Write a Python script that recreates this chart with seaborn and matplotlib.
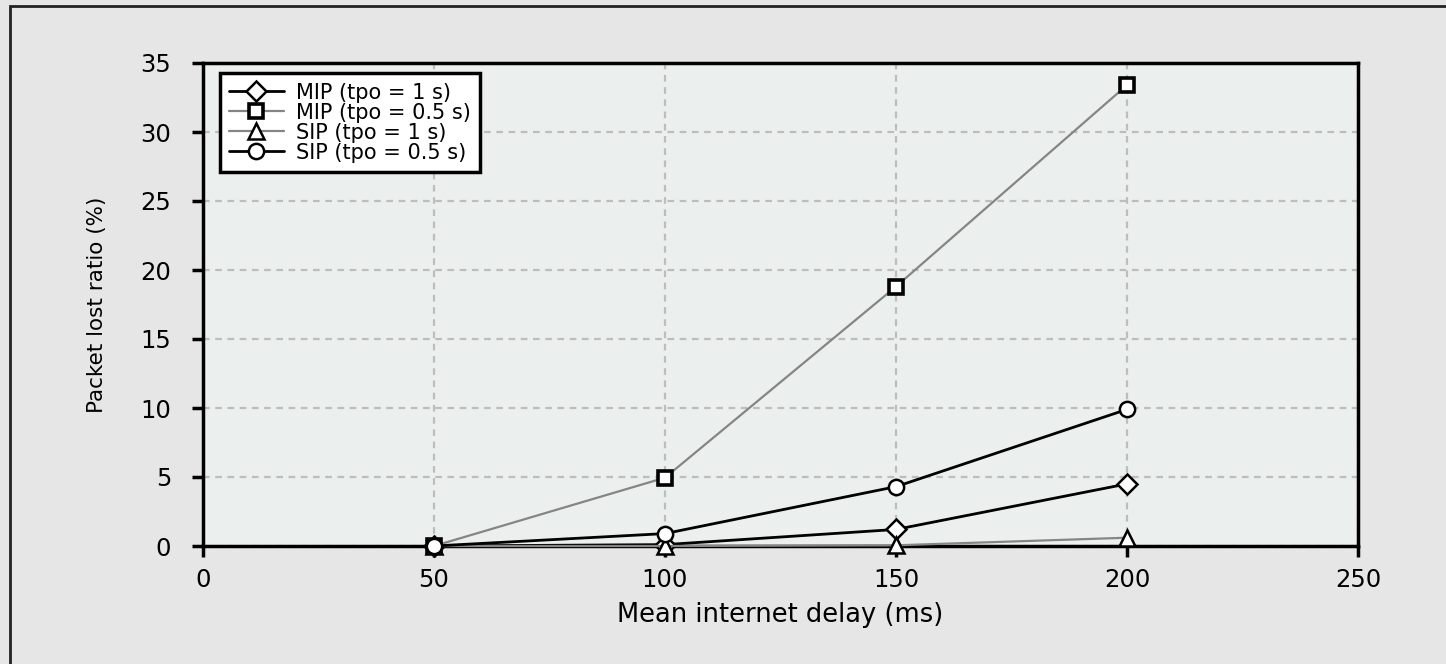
import numpy as np
import pandas as pd
import matplotlib
matplotlib.use("Agg")
import matplotlib.pyplot as plt
import seaborn as sns
from matplotlib.patches import Rectangle

# dados
delay = [50, 100, 150, 200]
mip_1 = [0.0, 0.1, 1.2, 4.5]
mip_05 = [0.0, 4.95, 18.8, 33.4]
sip_1 = [0.0, 0.0, 0.05, 0.6]
sip_05 = [0.0, 0.9, 4.3, 9.9]

labels = ["MIP (tpo = 1 s)", "MIP (tpo = 0.5 s)", "SIP (tpo = 1 s)", "SIP (tpo = 0.5 s)"]
series = [mip_1, mip_05, sip_1, sip_05]
cores = ["black", "#858585", "#858585", "black"]
marcadores = ["D", "s", "^", "o"]
tamanhos = [10, 10, 12, 11]

sns.set_style("white")
plt.rcParams['font.family'] = ['DejaVu Sans']
plt.rcParams['text.color'] = 'black'
plt.rcParams['axes.labelcolor'] = 'black'
plt.rcParams['xtick.color'] = 'black'
plt.rcParams['ytick.color'] = 'black'

fig = plt.figure(figsize=(14.46, 6.64), dpi=100)
fig.patch.set_facecolor("#e6e6e6")
fig.patches.append(Rectangle((10 / 1446, -0.1), 1.2, (664 - 6) / 664 + 0.1,
                             transform=fig.transFigure, fill=False,
                             edgecolor="#222222", linewidth=2))
ax = fig.add_axes([203 / 1446, 1 - 546 / 664, (1358 - 203) / 1446, (546 - 63) / 664])
ax.set_facecolor("#ebf0ee")

for vals, lab, cor, mk, ms in zip(series, labels, cores, marcadores, tamanhos):
    df = pd.DataFrame({"x": delay, "y": vals})
    sns.lineplot(data=df, x="x", y="y", ax=ax, color=cor,
                 linewidth=2.0 if cor == "black" else 1.6,
                 marker=mk, markersize=ms, markerfacecolor="white", markeredgecolor="black",
                 markeredgewidth=1.8 if mk != "s" else 2.6, label=lab, clip_on=False, zorder=3)

ax.set_xlim(0, 250)
ax.set_ylim(0, 35)
ax.set_xticks([0, 50, 100, 150, 200, 250])
ax.set_yticks([0, 5, 10, 15, 20, 25, 30, 35])
ax.grid(True, color="#bdbdbd", linestyle=(0, (3, 2.5)), linewidth=1.6)
ax.tick_params(axis="both", direction="out", length=8, width=2.5, labelsize=17.5,
               color="black", bottom=True, left=True)
ax.tick_params(axis="x", pad=8)
ax.tick_params(axis="y", pad=15)
for s in ax.spines.values():
    s.set_color("black")
    s.set_linewidth(2.5)

ax.set_xlabel("Mean internet delay (ms)", fontsize=18.5, labelpad=7)
ax.set_ylabel("Packet lost ratio (%)", fontsize=15.5, labelpad=24)

leg = ax.legend(loc="upper left", bbox_to_anchor=(0.0147, 0.979), fontsize=15,
                frameon=True, fancybox=False, edgecolor="black", facecolor="white",
                borderpad=0.45, labelspacing=0.0, handlelength=2.6, handletextpad=0.6,
                borderaxespad=0)
leg.get_frame().set_linewidth(2.5)
leg.get_frame().set_alpha(1)

fig.savefig("out.png", dpi=100, facecolor=fig.get_facecolor())
